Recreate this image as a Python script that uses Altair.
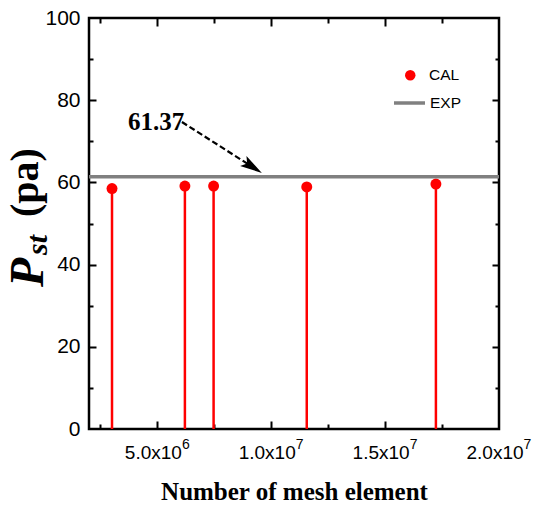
import altair as alt
import pandas as pd

# ---------------- data ----------------
MESH = [3.01e6, 6.21e6, 7.47e6, 1.156e7, 1.723e7]
PST = [58.5, 59.1, 59.1, 58.9, 59.6]
EXP_VALUE = 61.37
CAL_NAME = "CAL"
EXP_NAME = "EXP"

X_DOMAIN = [2.0e6, 2.0e7]
Y_DOMAIN = [0, 100]
X_LABEL_VALUES = [5.0e6, 1.0e7, 1.5e7, 2.0e7]
X_LABEL_MANTISSA = ["5.0x10", "1.0x10", "1.5x10", "2.0x10"]
X_LABEL_EXPONENT = ["6", "7", "7", "7"]
X_MAJOR_TICKS = [5.0e6, 1.0e7, 1.5e7]
X_MINOR_TICKS = [2.5e6, 7.5e6, 1.25e7, 1.75e7]
Y_LABEL_VALUES = [0, 20, 40, 60, 80, 100]
Y_MAJOR_TICKS = [20, 40, 60, 80]
Y_MINOR_TICKS = [10, 30, 50, 70, 90]

ANNOT_TEXT = ["61.37"]
ANNOT_X = [3.71e6]
ANNOT_Y = [74.6]
ARROW_X = [6.08e6, 9.11e6]
ARROW_Y = [74.7, 64.0]

X_TITLE = "Number of mesh element"
Y_TITLE_PARTS = ["P", "st", "(pa)"]

# ---------------- style ----------------
W, H = 410, 411
SANS = "'Liberation Sans Narrow', 'Liberation Sans', Arial, sans-serif"
SERIF = "'Liberation Serif', 'Times New Roman', serif"

xs = alt.Scale(domain=X_DOMAIN, nice=False, zero=False)
ys = alt.Scale(domain=Y_DOMAIN, nice=False, zero=False)


def label_expr(values, labels):
    expr = "''"
    for v, l in reversed(list(zip(values, labels))):
        expr = f"datum.value == {int(v)} ? '{l}' : ({expr})"
    return expr


def tick_axis(orient, values, length, span):
    # inward ticks on both opposite sides, drawn as a dashed grid line
    return alt.Axis(orient=orient, values=values, grid=True, gridColor="black",
                    gridWidth=2, gridOpacity=1, gridDash=[length, span - 2 * length, length],
                    labels=False, ticks=False, domain=False, title=None)


cal_df = pd.DataFrame({"mesh": MESH, "pst": PST, "series": [CAL_NAME] * len(MESH)})
exp_df = pd.DataFrame({"pst": [EXP_VALUE], "series": [EXP_NAME]})
annot_df = pd.DataFrame({"x": ANNOT_X, "y": ANNOT_Y, "t": ANNOT_TEXT})
arrow_df = pd.DataFrame({"x": ARROW_X, "y": ARROW_Y, "o": list(range(len(ARROW_X)))})
head_df = arrow_df.tail(1)

# stems: bottom label axis + left label axis
stems = alt.Chart(cal_df).mark_rule(color="#ff0000", strokeWidth=2.5).encode(
    x=alt.X("mesh:Q", scale=xs, axis=alt.Axis(
        orient="bottom", values=X_LABEL_VALUES, grid=False,
        labelExpr=label_expr(X_LABEL_VALUES, X_LABEL_MANTISSA),
        ticks=False, tickSize=0, domain=False, labelFont=SANS, labelFontSize=19,
        labelPadding=14, labelOffset=-4.5, labelFlush=False,
        title=X_TITLE, titleFont=SERIF, titleFontWeight="bold", titleFontSize=25,
        titleBaseline="alphabetic", titleY=70)),
    y=alt.Y("pst:Q", scale=ys, axis=alt.Axis(
        orient="left", values=Y_LABEL_VALUES, grid=False, ticks=False, tickSize=0, domain=False,
        labelFont=SANS, labelFontSize=21, labelPadding=9, labelFlush=False, title=None)),
    y2=alt.datum(0),
)

# points: exponent labels + major y ticks
points = alt.Chart(cal_df).mark_point(filled=True, size=120, opacity=1, strokeWidth=0).encode(
    x=alt.X("mesh:Q", scale=xs, axis=alt.Axis(
        orient="bottom", values=X_LABEL_VALUES, grid=False,
        labelExpr=label_expr(X_LABEL_VALUES, X_LABEL_EXPONENT),
        ticks=False, tickSize=0, domain=False, labelFont=SANS, labelFontSize=14,
        labelPadding=8, labelOffset=28, labelFlush=False, title=None)),
    y=alt.Y("pst:Q", scale=ys, axis=tick_axis("right", Y_MAJOR_TICKS, 7, W)),
    fill=alt.Fill("series:N", scale=alt.Scale(domain=[CAL_NAME], range=["#ff0000"]),
                  legend=alt.Legend(orient="none", legendX=313.5, legendY=49.5, title=None,
                                    symbolType="circle", symbolSize=110, symbolStrokeWidth=0,
                                    labelFont=SANS, labelFontSize=15.5, labelColor="black",
                                    labelOffset=11, padding=0)),
)

# annotation text: major x ticks + minor y ticks
annot = alt.Chart(annot_df).mark_text(
    font=SERIF, fontWeight="bold", fontSize=25, align="left", baseline="middle", color="black"
).encode(
    x=alt.X("x:Q", scale=xs, axis=tick_axis("top", X_MAJOR_TICKS, 8, H)),
    y=alt.Y("y:Q", scale=ys, axis=tick_axis("right", Y_MINOR_TICKS, 4, W)),
    text="t:N",
)

# dashed arrow line: minor x ticks
arrow_line = alt.Chart(arrow_df).mark_line(color="black", strokeWidth=2.2, strokeDash=[6, 3]).encode(
    x=alt.X("x:Q", scale=xs, axis=tick_axis("top", X_MINOR_TICKS, 5, H)),
    y=alt.Y("y:Q", scale=ys, axis=None),
    order="o:Q",
)

arrow_head = alt.Chart(head_df).mark_point(
    shape="M0,-1L0.45,0.7L0,0.35L-0.45,0.7Z", filled=True, color="black",
    size=676, angle=122.7, opacity=1, strokeWidth=0
).encode(
    x=alt.X("x:Q", scale=xs, axis=None),
    y=alt.Y("y:Q", scale=ys, axis=None),
)

exp_rule = alt.Chart(exp_df).mark_rule(strokeWidth=3.5).encode(
    y=alt.Y("pst:Q", scale=ys, axis=None),
    stroke=alt.Stroke("series:N", scale=alt.Scale(domain=[EXP_NAME], range=["#808080"]),
                      legend=alt.Legend(orient="none", legendX=303, legendY=67.5, title=None,
                                        symbolType="stroke", symbolSize=961, symbolStrokeWidth=3.5,
                                        labelFont=SANS, labelFontSize=15.5, labelColor="black",
                                        labelOffset=3, padding=0)),
)


# y title as rich text (P with subscript st)
def title_part(text, size, italic, xpx, ypx):
    return alt.Chart(pd.DataFrame({"t": [text]})).mark_text(
        font=SERIF, fontWeight="bold", fontStyle="italic" if italic else "normal",
        fontSize=size, angle=270, align="left", baseline="alphabetic", color="black"
    ).encode(text="t:N", x=alt.value(xpx), y=alt.value(ypx))


t_p = title_part(Y_TITLE_PARTS[0], 48, True, -46, 269)
t_st = title_part(Y_TITLE_PARTS[1], 30, True, -42, 237)
t_pa = title_part(Y_TITLE_PARTS[2], 40, False, -51, 199)

chart = alt.layer(
    stems, points, annot, arrow_line, arrow_head, exp_rule, t_p, t_st, t_pa
).resolve_axis(
    x="independent", y="independent"
).resolve_legend(
    fill="independent", stroke="independent"
).properties(
    width=W, height=H,
    padding={"left": 89, "top": 18, "right": 43, "bottom": 79},
    autosize=alt.AutoSizeParams(type="none"),
).configure_view(
    stroke="black", strokeWidth=2.5
).configure_axis(
    labelColor="black", titleColor="black"
)

chart.save("out.html", embed_options={"renderer": "svg", "actions": False})
